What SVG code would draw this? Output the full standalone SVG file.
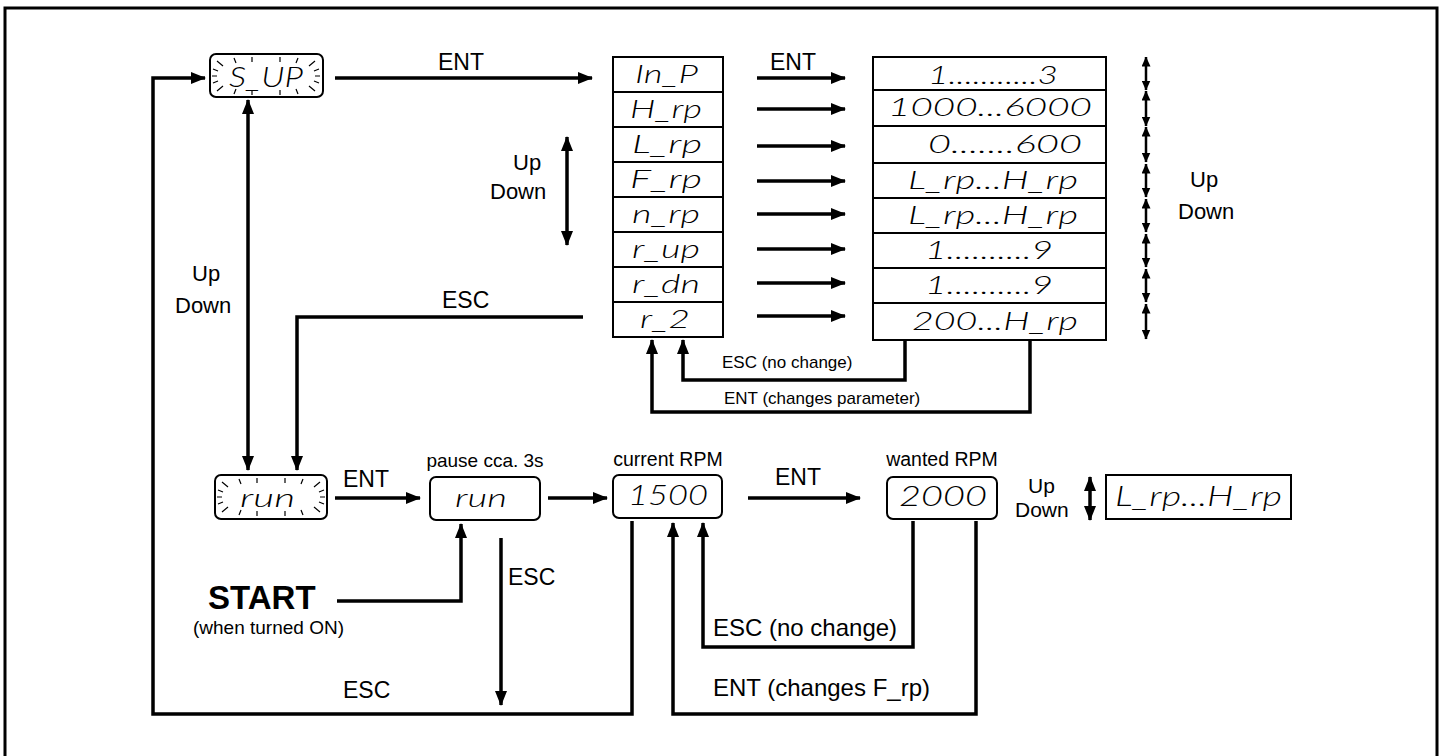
<svg xmlns="http://www.w3.org/2000/svg" xmlns:xlink="http://www.w3.org/1999/xlink" width="1445" height="756" viewBox="0 0 1445 756">
<style>
.bg{fill:#fff}
.frame{fill:none;stroke:#000;stroke-width:3}
.box{fill:#fff;stroke:#000;stroke-width:2}
.conn{fill:none;stroke:#000;stroke-width:3.5}
.thin{fill:none;stroke:#000;stroke-width:2.5}
.ray{fill:none;stroke:#000;stroke-width:1.2}
.lbl{font-family:"Liberation Sans",Arial,sans-serif;fill:#000}
.seg{font-family:"Lato","Roboto","DejaVu Sans",sans-serif;font-weight:300;font-style:italic;fill:#000}
</style>
<defs>
<marker id="ah" markerWidth="15" markerHeight="12" refX="14" refY="6" orient="auto-start-reverse" markerUnits="userSpaceOnUse"><path d="M0,0 L15,6 L0,12 z" fill="#000"/></marker>
<marker id="sh" markerWidth="10" markerHeight="9" refX="9.5" refY="4.5" orient="auto-start-reverse" markerUnits="userSpaceOnUse"><path d="M0,0 L10,4.5 L0,9 z" fill="#000"/></marker>
<g id="rays" class="ray"><path d="M7,7 L13,12 M24,4 L26,9 M42,3 L42,8 M70,3 L70,8 M88,4 L86,9 M105,7 L99,12 M3,15 L8,17 M2,22 L7,22 M3,29 L8,27 M109,15 L104,17 M110,22 L105,22 M109,29 L104,27 M7,37 L13,32 M24,40 L26,35 M42,41 L42,36 M70,41 L70,36 M88,40 L86,35 M105,37 L99,32"/></g>
</defs>
<rect class="bg" x="0" y="0" width="1445" height="756"/>
<rect class="frame" x="5" y="8" width="1432" height="760"/>

<g id="connectors">
<line class="conn" x1="335" y1="78" x2="592" y2="78" marker-end="url(#ah)"/>
<path class="conn" d="M632,521 V714 H153 V78 H205" marker-end="url(#ah)"/>
<line class="conn" x1="248" y1="100" x2="248" y2="470" marker-start="url(#ah)" marker-end="url(#ah)"/>
<path class="conn" d="M583,317 H297 V470" marker-end="url(#ah)"/>
<line class="conn" x1="757" y1="78" x2="845" y2="78" marker-end="url(#ah)"/>
<line class="conn" x1="757" y1="109" x2="845" y2="109" marker-end="url(#ah)"/>
<line class="conn" x1="757" y1="146" x2="845" y2="146" marker-end="url(#ah)"/>
<line class="conn" x1="757" y1="181" x2="845" y2="181" marker-end="url(#ah)"/>
<line class="conn" x1="757" y1="214" x2="845" y2="214" marker-end="url(#ah)"/>
<line class="conn" x1="757" y1="249" x2="845" y2="249" marker-end="url(#ah)"/>
<line class="conn" x1="757" y1="283" x2="845" y2="283" marker-end="url(#ah)"/>
<line class="conn" x1="757" y1="316" x2="845" y2="316" marker-end="url(#ah)"/>
<path class="conn" d="M905,340 V380 H683 V340" marker-end="url(#ah)"/>
<path class="conn" d="M1030,340 V412 H652 V340" marker-end="url(#ah)"/>
<line class="conn" x1="567" y1="137" x2="567" y2="245" marker-start="url(#ah)" marker-end="url(#ah)"/>
<line class="thin" x1="1146" y1="57" x2="1146" y2="90" marker-start="url(#sh)" marker-end="url(#sh)"/>
<line class="thin" x1="1146" y1="91" x2="1146" y2="126" marker-start="url(#sh)" marker-end="url(#sh)"/>
<line class="thin" x1="1146" y1="127" x2="1146" y2="162" marker-start="url(#sh)" marker-end="url(#sh)"/>
<line class="thin" x1="1146" y1="164" x2="1146" y2="197" marker-start="url(#sh)" marker-end="url(#sh)"/>
<line class="thin" x1="1146" y1="199" x2="1146" y2="232" marker-start="url(#sh)" marker-end="url(#sh)"/>
<line class="thin" x1="1146" y1="234" x2="1146" y2="267" marker-start="url(#sh)" marker-end="url(#sh)"/>
<line class="thin" x1="1146" y1="269" x2="1146" y2="302" marker-start="url(#sh)" marker-end="url(#sh)"/>
<line class="thin" x1="1146" y1="304" x2="1146" y2="339" marker-start="url(#sh)" marker-end="url(#sh)"/>
<line class="conn" x1="335" y1="498" x2="420" y2="498" marker-end="url(#ah)"/>
<line class="conn" x1="548" y1="498" x2="607" y2="498" marker-end="url(#ah)"/>
<line class="conn" x1="748" y1="498" x2="860" y2="498" marker-end="url(#ah)"/>
<path class="conn" d="M337,601 H461 V524" marker-end="url(#ah)"/>
<line class="conn" x1="501" y1="538" x2="501" y2="705" marker-end="url(#ah)"/>
<path class="conn" d="M913,521 V647 H703 V523" marker-end="url(#ah)"/>
<path class="conn" d="M976,521 V714 H673 V523" marker-end="url(#ah)"/>
<line class="conn" x1="1090" y1="477" x2="1090" y2="520" marker-start="url(#ah)" marker-end="url(#ah)"/>
</g>

<g id="node-setup">
<rect class="box" x="210" y="54" width="113" height="43" rx="6"/>
<use xlink:href="#rays" x="210" y="54"/>
<text class="seg" x="229" y="87" font-size="27" textLength="74" lengthAdjust="spacingAndGlyphs">S_UP</text>
</g>

<g id="node-params">
<rect class="box" x="613" y="57" width="110" height="280"/>
<path class="box" d="M613,92 H723 M613,127 H723 M613,162 H723 M613,197 H723 M613,232 H723 M613,267 H723 M613,302 H723"/>
<text class="seg" x="635" y="83" font-size="25" textLength="63" lengthAdjust="spacingAndGlyphs">In_P</text>
<text class="seg" x="630" y="118" font-size="25" textLength="72" lengthAdjust="spacingAndGlyphs">H_rp</text>
<text class="seg" x="632" y="153" font-size="25" textLength="70" lengthAdjust="spacingAndGlyphs">L_rp</text>
<text class="seg" x="630" y="188" font-size="25" textLength="72" lengthAdjust="spacingAndGlyphs">F_rp</text>
<text class="seg" x="632" y="223" font-size="25" textLength="68" lengthAdjust="spacingAndGlyphs">n_rp</text>
<text class="seg" x="632" y="258" font-size="25" textLength="68" lengthAdjust="spacingAndGlyphs">r_up</text>
<text class="seg" x="632" y="293" font-size="25" textLength="68" lengthAdjust="spacingAndGlyphs">r_dn</text>
<text class="seg" x="640" y="328" font-size="25" textLength="50" lengthAdjust="spacingAndGlyphs">r_2</text>
</g>

<g id="node-values">
<rect class="box" x="873" y="57" width="233" height="283"/>
<path class="box" d="M873,90 H1106 M873,126 H1106 M873,163 H1106 M873,198 H1106 M873,233 H1106 M873,268 H1106 M873,303 H1106"/>
<text class="seg" x="928" y="84" font-size="25" textLength="130" lengthAdjust="spacingAndGlyphs">1...........3</text>
<text class="seg" x="888" y="116" font-size="25" textLength="204" lengthAdjust="spacingAndGlyphs">1000...6000</text>
<text class="seg" x="928" y="153" font-size="25" textLength="154" lengthAdjust="spacingAndGlyphs">0.......600</text>
<text class="seg" x="908" y="189" font-size="25" textLength="170" lengthAdjust="spacingAndGlyphs">L_rp...H_rp</text>
<text class="seg" x="908" y="224" font-size="25" textLength="170" lengthAdjust="spacingAndGlyphs">L_rp...H_rp</text>
<text class="seg" x="925" y="259" font-size="25" textLength="128" lengthAdjust="spacingAndGlyphs">1..........9</text>
<text class="seg" x="925" y="294" font-size="25" textLength="128" lengthAdjust="spacingAndGlyphs">1..........9</text>
<text class="seg" x="912" y="330" font-size="25" textLength="166" lengthAdjust="spacingAndGlyphs">200...H_rp</text>
</g>

<g id="node-run-blink">
<rect class="box" x="215" y="475" width="112" height="44" rx="6"/>
<use xlink:href="#rays" x="215" y="475"/>
<text class="seg" x="240" y="507" font-size="26" textLength="55" lengthAdjust="spacingAndGlyphs">run</text>
</g>

<g id="node-pause">
<rect class="box" x="430" y="477" width="110" height="43" rx="6"/>
<text class="seg" x="455" y="507" font-size="26" textLength="52" lengthAdjust="spacingAndGlyphs">run</text>
<text class="lbl" x="485" y="467" font-size="19" text-anchor="middle">pause cca. 3s</text>
</g>

<g id="node-current">
<rect class="box" x="613" y="475" width="109" height="43" rx="6"/>
<text class="seg" x="628" y="505" font-size="27" textLength="80" lengthAdjust="spacingAndGlyphs">1500</text>
<text class="lbl" x="668" y="466" font-size="19.5" text-anchor="middle">current RPM</text>
</g>

<g id="node-wanted">
<rect class="box" x="887" y="477" width="110" height="42" rx="6"/>
<text class="seg" x="899" y="506" font-size="27" textLength="88" lengthAdjust="spacingAndGlyphs">2000</text>
<text class="lbl" x="942" y="466" font-size="19.5" text-anchor="middle">wanted RPM</text>
</g>

<g id="node-range">
<rect class="box" x="1106" y="475" width="185" height="44"/>
<text class="seg" x="1115" y="506" font-size="27" textLength="167" lengthAdjust="spacingAndGlyphs">L_rp...H_rp</text>
</g>

<g id="node-start">
<text class="lbl" x="208" y="609" font-size="33" font-weight="bold">START</text>
<text class="lbl" x="193" y="634" font-size="19">(when turned ON)</text>
</g>

<g id="labels">
<text class="lbl" x="438" y="70" font-size="23">ENT</text>
<text class="lbl" x="770" y="70" font-size="23">ENT</text>
<text class="lbl" x="513" y="170" font-size="22">Up</text>
<text class="lbl" x="490" y="199" font-size="22">Down</text>
<text class="lbl" x="1190" y="187" font-size="22">Up</text>
<text class="lbl" x="1178" y="219" font-size="22">Down</text>
<text class="lbl" x="192" y="281" font-size="22">Up</text>
<text class="lbl" x="175" y="313" font-size="22">Down</text>
<text class="lbl" x="442" y="308" font-size="23">ESC</text>
<text class="lbl" x="722" y="368" font-size="17">ESC (no change)</text>
<text class="lbl" x="724" y="404" font-size="17">ENT (changes parameter)</text>
<text class="lbl" x="343" y="487" font-size="23">ENT</text>
<text class="lbl" x="775" y="485" font-size="23">ENT</text>
<text class="lbl" x="1028" y="493" font-size="21">Up</text>
<text class="lbl" x="1015" y="517" font-size="21">Down</text>
<text class="lbl" x="508" y="585" font-size="23">ESC</text>
<text class="lbl" x="343" y="698" font-size="23">ESC</text>
<text class="lbl" x="713" y="636" font-size="24">ESC (no change)</text>
<text class="lbl" x="713" y="696" font-size="24">ENT (changes F_rp)</text>
</g>
</svg>
